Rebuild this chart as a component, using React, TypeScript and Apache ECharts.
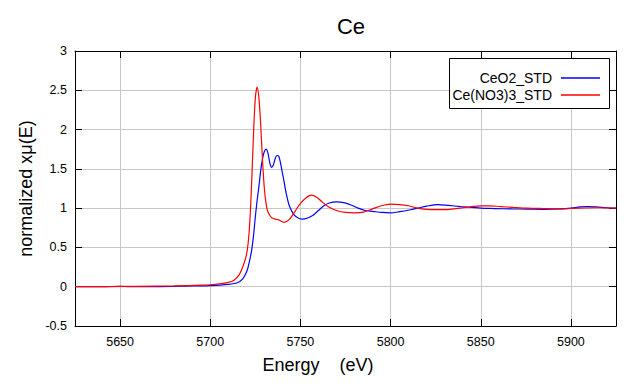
import React, { useEffect, useRef } from "react";
import * as echarts from "echarts";

const titleText = "Ce";
const xName = "Energy    (eV)";
const yName = "normalized xμ(E)";
const seriesNames = ["CeO2_STD", "Ce(NO3)3_STD"];
const seriesColors = ["#0000ff", "#ff0000"];

const xMin = 5625;
const xMax = 5925;
const yMin = -0.5;
const yMax = 3;
const yStep = 0.5;

const ceo2Energy = [
  5625, 5640, 5650, 5655, 5670, 5690, 5700, 5710, 5715, 5718, 5720, 5721, 5722, 5723, 5724,
  5725, 5726, 5727, 5728, 5729, 5730, 5731, 5732, 5733, 5734, 5735, 5736, 5737, 5738, 5739,
  5740, 5741, 5742, 5743, 5744, 5746, 5748, 5751, 5754, 5757, 5760, 5763, 5766, 5770, 5774,
  5778, 5782, 5786, 5790, 5795, 5800, 5805, 5811, 5815, 5820, 5826, 5832, 5839, 5845, 5850,
  5858, 5867, 5876, 5885, 5894, 5900, 5905, 5909, 5914, 5920, 5925,
];
const ceo2Mu = [
  0, 0, 0.005, 0, 0, 0.01, 0.015, 0.03, 0.05, 0.1, 0.18, 0.25, 0.35, 0.47, 0.65,
  0.89, 1.1, 1.28, 1.48, 1.63, 1.72, 1.75, 1.7, 1.58, 1.52, 1.55, 1.63, 1.67, 1.66, 1.57,
  1.45, 1.33, 1.2, 1.1, 1.02, 0.93, 0.885, 0.86, 0.875, 0.91, 0.97, 1.03, 1.065, 1.08, 1.07,
  1.04, 1.0, 0.97, 0.96, 0.945, 0.94, 0.955, 0.98, 1.0, 1.025, 1.045, 1.035, 1.02, 1.01, 1.0,
  0.995, 0.99, 0.988, 0.985, 0.99, 1.0, 1.015, 1.02, 1.015, 1.005, 1.0,
];

const nitrateEnergy = [
  5625, 5640, 5660, 5680, 5695, 5700, 5705, 5710, 5713, 5716, 5718, 5720, 5721, 5722, 5723,
  5724, 5725, 5726, 5727, 5728, 5729, 5730, 5731, 5732, 5734, 5736, 5738, 5741, 5744, 5747,
  5750, 5753, 5756, 5759, 5762, 5766, 5770, 5775, 5780, 5785, 5790, 5795, 5800, 5805, 5810,
  5815, 5820, 5825, 5830, 5835, 5840, 5845, 5850, 5855, 5861, 5868, 5876, 5885, 5894, 5904,
  5915, 5925,
];
const nitrateMu = [
  0, 0, 0.005, 0.01, 0.02, 0.025, 0.035, 0.055, 0.08, 0.15, 0.25, 0.4, 0.55, 0.85, 1.35,
  1.95, 2.4, 2.54, 2.4, 2.05, 1.6, 1.25, 1.05, 0.95, 0.88, 0.86, 0.85, 0.82, 0.86, 0.96,
  1.06, 1.13, 1.165, 1.14, 1.08, 1.01, 0.97, 0.945, 0.94, 0.95, 0.99, 1.03, 1.05, 1.045, 1.03,
  1.0, 0.985, 0.98, 0.98, 0.99, 1.005, 1.02, 1.03, 1.03, 1.02, 1.01, 1.0, 0.995, 0.99, 1.0,
  1.005, 1.0,
];

const FONT = 'Arial, "Liberation Sans", sans-serif';

const pairs = (xs: number[], ys: number[]) => xs.map((x, i) => [x, ys[i]]);

export default function App() {
  const ref = useRef<HTMLDivElement>(null);
  useEffect(() => {
    if (!ref.current) return;
    const chart = echarts.init(ref.current, undefined, { renderer: "svg" });
    const tickStyle = { inside: true, length: 7, lineStyle: { color: "#000", width: 1 } };
    const lineAxis = { show: true, onZero: false, lineStyle: { color: "#000", width: 1 } };
    const legendBase = {
      orient: "horizontal" as const,
      align: "right" as const,
      right: 40,
      padding: 0,
      itemWidth: 39,
      itemHeight: 1.3,
      icon: "rect",
      z: 10,
      textStyle: { color: "#000", fontSize: 14, fontFamily: FONT, padding: [0, 4, 0, 0] },
    };
    chart.setOption({
      animation: false,
      backgroundColor: "#fff",
      title: {
        text: titleText,
        left: 346,
        textAlign: "center",
        top: 10,
        textStyle: { color: "#000", fontSize: 22, fontWeight: "normal", fontFamily: FONT },
      },
      grid: { left: 75, right: 24, top: 51, bottom: 58 },
      legend: [
        { ...legendBase, top: 71, data: [seriesNames[0]] },
        { ...legendBase, top: 88, data: [seriesNames[1]] },
      ],
      graphic: [
        {
          type: "rect",
          z: 5,
          shape: { x: 449.5, y: 58.5, width: 160, height: 50 },
          style: { fill: "#fff", stroke: "#000", lineWidth: 1 },
        },
      ],
      xAxis: [
        {
          type: "value",
          min: xMin,
          max: xMax,
          splitNumber: 6,
          name: xName,
          nameLocation: "middle",
          nameGap: 30,
          nameTextStyle: { color: "#000", fontSize: 18, fontFamily: FONT, padding: [0, 55, 0, 0] },
          axisLine: lineAxis,
          axisTick: tickStyle,
          axisLabel: {
            color: "#000",
            fontSize: 12.5,
            fontFamily: FONT,
            margin: 9,
            showMinLabel: false,
            showMaxLabel: false,
            formatter: (v: number) => String(v),
          },
          splitLine: { show: true, lineStyle: { color: "#c8c8c8", width: 1 } },
        },
        {
          type: "value",
          position: "top",
          min: xMin,
          max: xMax,
          splitNumber: 6,
          axisLine: lineAxis,
          axisTick: tickStyle,
          axisLabel: { show: false },
          splitLine: { show: false },
        },
      ],
      yAxis: [
        {
          type: "value",
          min: yMin,
          max: yMax,
          interval: yStep,
          name: yName,
          nameLocation: "middle",
          nameGap: 40,
          nameTextStyle: { color: "#000", fontSize: 18, fontFamily: FONT },
          axisLine: lineAxis,
          axisTick: tickStyle,
          axisLabel: { color: "#000", fontSize: 12.5, fontFamily: FONT, margin: 8 },
          splitLine: { show: true, lineStyle: { color: "#c8c8c8", width: 1 } },
        },
        {
          type: "value",
          position: "right",
          min: yMin,
          max: yMax,
          interval: yStep,
          axisLine: lineAxis,
          axisTick: tickStyle,
          axisLabel: { show: false },
          splitLine: { show: false },
        },
      ],
      series: [
        {
          name: seriesNames[0],
          type: "line",
          data: pairs(ceo2Energy, ceo2Mu),
          symbol: "none",
          smooth: 0.3,
          lineStyle: { color: seriesColors[0], width: 1.2 },
          itemStyle: { color: seriesColors[0] },
        },
        {
          name: seriesNames[1],
          type: "line",
          data: pairs(nitrateEnergy, nitrateMu),
          symbol: "none",
          smooth: 0.3,
          lineStyle: { color: seriesColors[1], width: 1.2 },
          itemStyle: { color: seriesColors[1] },
        },
      ],
    });
    return () => chart.dispose();
  }, []);
  return (
    <div
      ref={ref}
      style={{ position: "fixed", left: 0, top: 0, width: 640, height: 384 }}
    />
  );
}
